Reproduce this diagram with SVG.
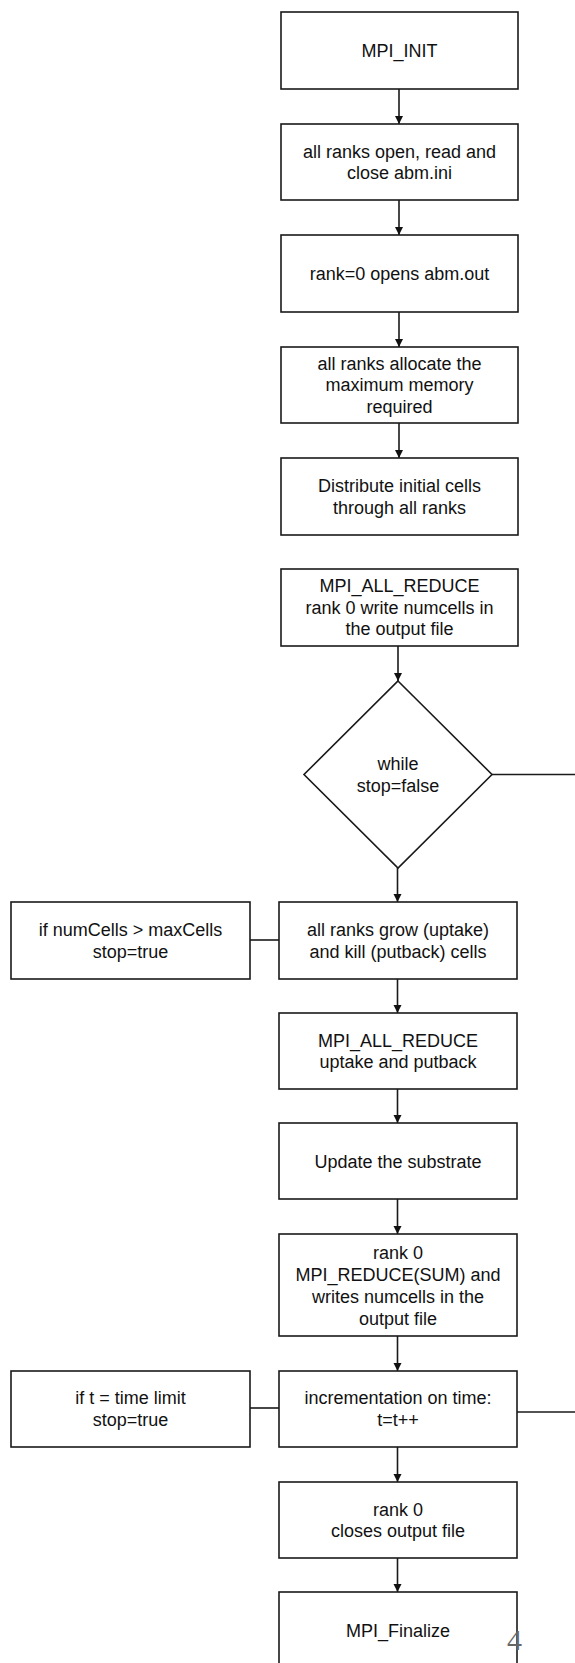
<svg xmlns="http://www.w3.org/2000/svg" width="575" height="1663" viewBox="0 0 575 1663">
  <defs>
    <marker id="arrow" markerUnits="userSpaceOnUse" markerWidth="8" markerHeight="10" refX="8" refY="4" orient="auto">
      <path d="M0,0 L8,4 L0,8 Z" fill="#111"/>
    </marker>
    <style>
      rect, polygon.box { fill: #fff; stroke: #1a1a1a; stroke-width: 1.6; }
      text { font-family: "Liberation Sans", Arial, Helvetica, sans-serif; font-size: 18px; fill: #111; text-anchor: middle; }
      .conn line { stroke: #1a1a1a; stroke-width: 1.6; }
      .arrowed { marker-end: url(#arrow); }
      .pageno { font-family: "Liberation Serif", "DejaVu Serif", serif; font-size: 30px; fill: #666; }
    </style>
  </defs>
  <rect x="0" y="0" width="575" height="1663" fill="#fff" style="stroke:none"/>

  <!-- connectors -->
  <g class="conn" id="connectors">
    <line class="arrowed" x1="399" y1="89" x2="399" y2="124"/>
    <line class="arrowed" x1="399" y1="200" x2="399" y2="235"/>
    <line class="arrowed" x1="399" y1="312" x2="399" y2="347"/>
    <line class="arrowed" x1="399" y1="423" x2="399" y2="458"/>
    <line class="arrowed" x1="398" y1="646" x2="398" y2="681"/>
    <line x1="492" y1="774.5" x2="575" y2="774.5"/>
    <line class="arrowed" x1="397.5" y1="868" x2="397.5" y2="902"/>
    <line x1="250" y1="940" x2="279" y2="940"/>
    <line class="arrowed" x1="397.5" y1="979" x2="397.5" y2="1013"/>
    <line class="arrowed" x1="397.5" y1="1089" x2="397.5" y2="1123"/>
    <line class="arrowed" x1="397.5" y1="1199" x2="397.5" y2="1234"/>
    <line class="arrowed" x1="397.5" y1="1336" x2="397.5" y2="1371"/>
    <line x1="250" y1="1408" x2="279" y2="1408"/>
    <line x1="517" y1="1412" x2="575" y2="1412"/>
    <line class="arrowed" x1="397.5" y1="1447" x2="397.5" y2="1482"/>
    <line class="arrowed" x1="397.5" y1="1558" x2="397.5" y2="1592"/>
  </g>

  <g id="mpi-init">
    <rect x="281" y="12" width="237" height="77"/>
    <text x="399.5" y="57">MPI_INIT</text>
  </g>

  <g id="read-ini">
    <rect x="281" y="124" width="237" height="76"/>
    <text x="399.5" y="157.5">all ranks open, read and</text>
    <text x="399.5" y="179">close abm.ini</text>
  </g>

  <g id="open-out">
    <rect x="281" y="235" width="237" height="77"/>
    <text x="399.5" y="280">rank=0 opens abm.out</text>
  </g>

  <g id="allocate">
    <rect x="281" y="347" width="237" height="76"/>
    <text x="399.5" y="369.5">all ranks allocate the</text>
    <text x="399.5" y="391">maximum memory</text>
    <text x="399.5" y="412.5">required</text>
  </g>

  <g id="distribute">
    <rect x="281" y="458" width="237" height="77"/>
    <text x="399.5" y="492">Distribute initial cells</text>
    <text x="399.5" y="513.5">through all ranks</text>
  </g>

  <g id="all-reduce-init">
    <rect x="281" y="569" width="237" height="77"/>
    <text x="399.5" y="592">MPI_ALL_REDUCE</text>
    <text x="399.5" y="613.5">rank 0 write numcells in</text>
    <text x="399.5" y="635">the output file</text>
  </g>

  <g id="while-loop">
    <polygon class="box" points="398,681 492,774.5 398,868 304,774.5"/>
    <text x="398" y="770">while</text>
    <text x="398" y="791.5">stop=false</text>
  </g>

  <g id="max-cells">
    <rect x="11" y="902" width="239" height="77"/>
    <text x="130.5" y="936">if numCells &gt; maxCells</text>
    <text x="130.5" y="957.5">stop=true</text>
  </g>

  <g id="grow-kill">
    <rect x="279" y="902" width="238" height="77"/>
    <text x="398" y="936">all ranks grow (uptake)</text>
    <text x="398" y="957.5">and kill (putback) cells</text>
  </g>

  <g id="all-reduce-uptake">
    <rect x="279" y="1013" width="238" height="76"/>
    <text x="398" y="1046.5">MPI_ALL_REDUCE</text>
    <text x="398" y="1068">uptake and putback</text>
  </g>

  <g id="substrate">
    <rect x="279" y="1123" width="238" height="76"/>
    <text x="398" y="1167.5">Update the substrate</text>
  </g>

  <g id="reduce-sum">
    <rect x="279" y="1234" width="238" height="102"/>
    <text x="398" y="1258.5">rank 0</text>
    <text x="398" y="1280.5">MPI_REDUCE(SUM) and</text>
    <text x="398" y="1302.5">writes numcells in the</text>
    <text x="398" y="1324.5">output file</text>
  </g>

  <g id="time-limit">
    <rect x="11" y="1371" width="239" height="76"/>
    <text x="130.5" y="1404">if t = time limit</text>
    <text x="130.5" y="1425.5">stop=true</text>
  </g>

  <g id="increment-time">
    <rect x="279" y="1371" width="238" height="76"/>
    <text x="398" y="1404">incrementation on time:</text>
    <text x="398" y="1425.5">t=t++</text>
  </g>

  <g id="close-output">
    <rect x="279" y="1482" width="238" height="76"/>
    <text x="398" y="1515.5">rank 0</text>
    <text x="398" y="1537">closes output file</text>
  </g>

  <g id="finalize">
    <rect x="279" y="1592" width="238" height="78"/>
    <text x="398" y="1637">MPI_Finalize</text>
  </g>

  <text class="pageno" x="514.5" y="1650">4</text>
</svg>
